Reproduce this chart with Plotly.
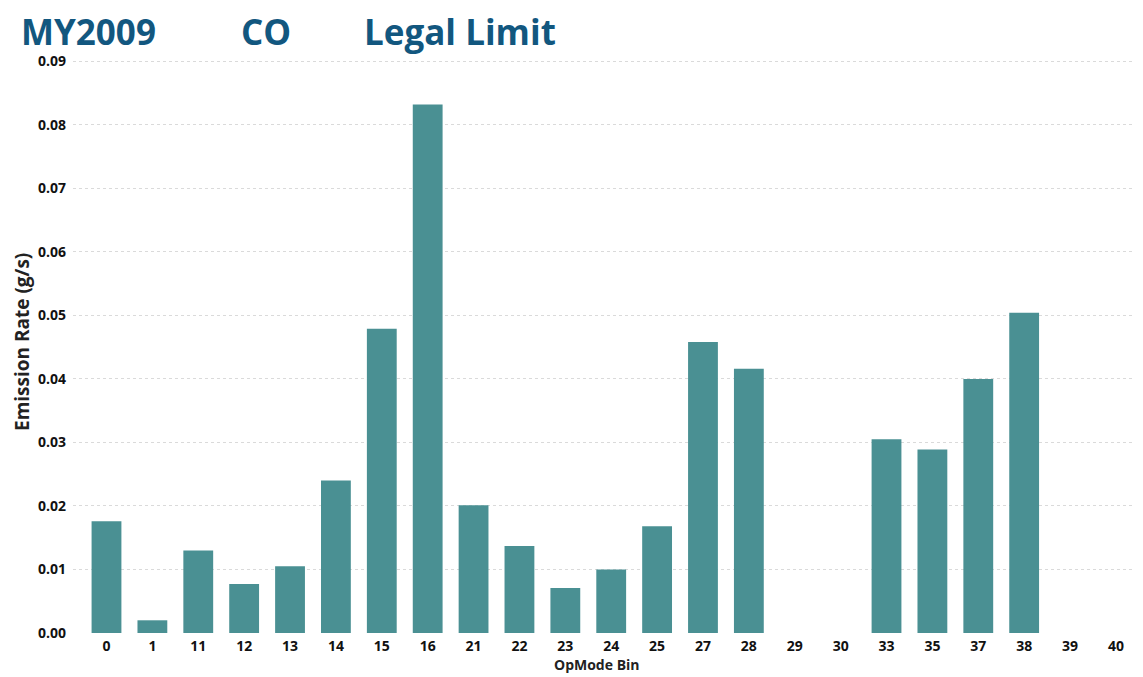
import plotly.graph_objects as go

# OpMode bins and CO emission rates (g/s)
opmode_bins = ['0', '1', '11', '12', '13', '14', '15', '16', '21', '22', '23', '24',
               '25', '27', '28', '29', '30', '33', '35', '37', '38', '39', '40']
emission_rate = [0.0176, 0.0020, 0.0130, 0.0077, 0.0105, 0.0240, 0.0479, 0.0832,
                 0.0201, 0.0137, 0.0071, 0.0100, 0.0168, 0.0458, 0.0416, 0.0, 0.0,
                 0.0305, 0.0289, 0.0400, 0.0504, 0.0, 0.0]
y_ticks = [0.00, 0.01, 0.02, 0.03, 0.04, 0.05, 0.06, 0.07, 0.08, 0.09]

# page body has an 8px margin, so the figure is a bit smaller than the window
W, H = 1135, 669
ml, mr, mt, mb = 65, 0, 52, 44
pw, ph = W - ml - mr, H - mt - mb

def px_x(x):
    return (x - ml) / pw

def px_y(y):
    return (H - mb - y) / ph

title_color = '#12577f'
font_family = 'Open Sans, Noto Sans, sans-serif'

fig = go.Figure(go.Bar(
    x=opmode_bins,
    y=emission_rate,
    marker_color='#4a9093',
    marker_line_width=0,
))

fig.update_layout(
    width=W, height=H,
    margin=dict(l=ml, r=mr, t=mt, b=mb),
    plot_bgcolor='white',
    paper_bgcolor='white',
    bargap=0.35,
    showlegend=False,
    font=dict(family=font_family, color='#111111'),
)

fig.update_xaxes(
    type='category',
    range=[-0.73, 22.59],
    tickvals=opmode_bins,
    ticktext=['<b>%s</b>' % b for b in opmode_bins],
    tickfont=dict(size=14, color='#111111'),
    showgrid=False,
    showline=False,
    ticks='',
    ticklabelstandoff=3,
)
fig.update_yaxes(
    range=[0, 0.0902],
    tickvals=y_ticks,
    ticktext=['<b>%.2f</b>' % v for v in y_ticks],
    tickfont=dict(size=14, color='#111111'),
    showgrid=True,
    gridcolor='#dadada',
    griddash='dot',
    gridwidth=1,
    zeroline=False,
    showline=False,
    ticks='',
    ticklabelstandoff=6,
)

title_y = 23
annotations = [
    dict(text='<b>MY2009</b>', x=px_x(12), y=px_y(title_y), xanchor='left', yanchor='middle',
         font=dict(size=35, color=title_color)),
    dict(text='<b>CO</b>', x=px_x(232), y=px_y(title_y), xanchor='left', yanchor='middle',
         font=dict(size=35, color=title_color)),
    dict(text='<b>Legal Limit</b>', x=px_x(355), y=px_y(title_y), xanchor='left', yanchor='middle',
         font=dict(size=35, color=title_color)),
    dict(text='<b>Emission Rate (g/s)</b>', x=px_x(14), y=px_y(334), xanchor='center',
         yanchor='middle', textangle=-90, font=dict(size=19, color='#222222')),
    dict(text='<b>OpMode Bin</b>', x=px_x(589), y=px_y(656), xanchor='center',
         yanchor='middle', font=dict(size=14, color='#222222')),
]
for a in annotations:
    a.update(xref='paper', yref='paper', showarrow=False, borderpad=0)
fig.update_layout(annotations=annotations)

fig.write_html("out.html")
